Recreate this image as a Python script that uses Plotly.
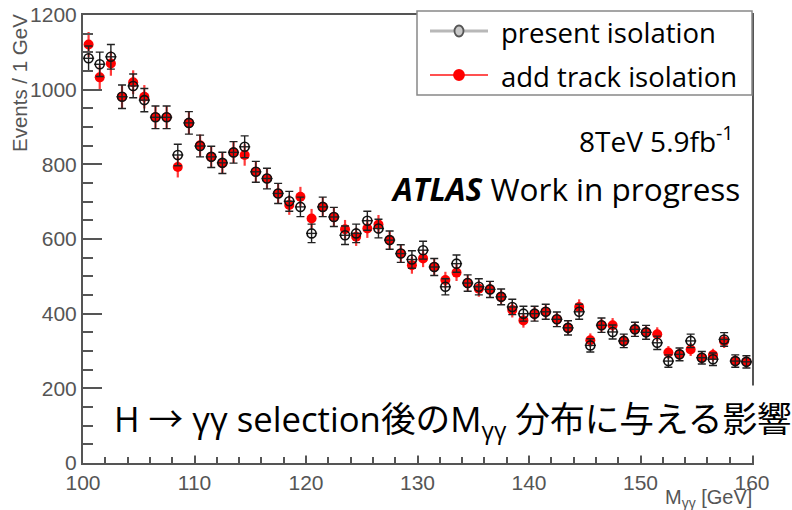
import numpy as np
import plotly.graph_objects as go

# Diphoton invariant mass, 1 GeV bins from 100 to 160 GeV (bin centres)
mass_bins = [100.5 + i for i in range(60)]
bin_half_width = 0.5

present_isolation = [
    1084, 1068, 1088, 981, 1010, 972, 926, 926, 825, 911,
    849, 820, 804, 832, 847, 780, 762, 722, 701, 686,
    615, 686, 659, 610, 615, 649, 628, 597, 561, 545,
    570, 525, 472, 534, 482, 472, 465, 445, 418, 400,
    400, 405, 385, 362, 405, 315, 369, 351, 327, 358,
    350, 322, 273, 291, 327, 282, 278, 331, 273, 271,
]

add_track_isolation = [
    1121, 1033, 1070, 981, 1020, 981, 926, 926, 793, 911,
    851, 820, 803, 832, 825, 780, 762, 722, 691, 713,
    655, 686, 659, 626, 606, 628, 639, 597, 561, 530,
    548, 525, 490, 510, 482, 467, 465, 445, 410, 382,
    400, 405, 385, 362, 418, 329, 369, 369, 327, 358,
    350, 345, 296, 291, 304, 282, 289, 326, 273, 271,
]

legend_labels = ["present isolation", "add track isolation"]

W, H = 792, 510
ML, MR, MT, MB = 83, 40, 15, 47
PW, PH = W - ML - MR, H - MT - MB


def px(x):
    return (x - ML) / PW


def py(y):
    return (H - MB - y) / PH


fig = go.Figure()

# Poisson (sqrt N) statistical uncertainties
fig.add_trace(go.Scatter(
    x=mass_bins, y=add_track_isolation, mode="markers",
    marker=dict(symbol="circle", size=10, color="#ff0000"),
    error_y=dict(type="data", array=np.sqrt(add_track_isolation),
                 color="#ff3a3a", thickness=2.2, width=0),
    showlegend=False,
))
fig.add_trace(go.Scatter(
    x=mass_bins, y=present_isolation, mode="markers",
    marker=dict(symbol="circle-open", size=9, color="#111111",
                line=dict(width=1.6, color="#111111")),
    error_y=dict(type="data", array=np.sqrt(present_isolation),
                 color="#222222", thickness=1.4, width=4),
    error_x=dict(type="constant", value=bin_half_width,
                 color="#222222", thickness=1.4, width=0),
    showlegend=False,
))

axis_common = dict(
    showline=True, linecolor="#555555", linewidth=2, mirror=True,
    ticks="inside", tickcolor="#555555", tickwidth=1.5,
    showgrid=False, zeroline=False, automargin=False,
    tickfont=dict(family="Liberation Sans, Arial", size=21, color="#555555"),
)

fig.update_xaxes(
    range=[100, 160], dtick=10, ticklen=12,
    minor=dict(ticks="inside", dtick=2, ticklen=6, tickcolor="#555555", tickwidth=1.5),
    **axis_common,
)
fig.update_yaxes(
    range=[0, 1200], dtick=200, ticklen=19,
    minor=dict(ticks="inside", dtick=50, ticklen=10, tickcolor="#555555", tickwidth=1.5),
    **axis_common,
)

shapes = []
annotations = []

# Legend box
shapes.append(dict(type="rect", xref="paper", yref="paper",
                   x0=px(417), x1=px(752), y0=py(95), y1=py(11),
                   line=dict(color="#888888", width=1.5), fillcolor="white", layer="above"))
legend_styles = [
    dict(y=31, line="#b8b8b8", lw=3, mfill="#c8c8c8", mline="#555555", rx=4.5, ry=5.5),
    dict(y=75, line="#ff5050", lw=1.8, mfill="#ff0000", mline="#ff0000", rx=5, ry=5),
]
for lab, st in zip(legend_labels, legend_styles):
    shapes.append(dict(type="line", xref="paper", yref="paper",
                       x0=px(430), x1=px(488), y0=py(st["y"]), y1=py(st["y"]),
                       line=dict(color=st["line"], width=st["lw"]), layer="above"))
    shapes.append(dict(type="circle", xref="paper", yref="paper",
                       xsizemode="pixel", ysizemode="pixel",
                       xanchor=px(459), yanchor=py(st["y"]),
                       x0=-st["rx"], x1=st["rx"], y0=-st["ry"], y1=st["ry"],
                       fillcolor=st["mfill"], line=dict(color=st["mline"], width=1.8),
                       layer="above"))
    annotations.append(dict(xref="paper", yref="paper", x=px(499), y=py(st["y"] + 1),
                            xanchor="left", yanchor="middle", showarrow=False,
                            text=lab, font=dict(family="Open Sans", size=27.5, color="black")))

txt_font = "Open Sans, Noto Sans CJK JP"
annotations.append(dict(xref="paper", yref="paper", x=px(736), y=py(140),
                        xanchor="right", yanchor="middle", showarrow=False,
                        text="8TeV 5.9fb<sup>-1</sup>",
                        font=dict(family=txt_font, size=28, color="black")))
annotations.append(dict(xref="paper", yref="paper", x=px(742), y=py(188),
                        xanchor="right", yanchor="middle", showarrow=False,
                        text="<b><i>ATLAS</i></b> Work in progress",
                        font=dict(family=txt_font, size=31.5, color="black")))
annotations.append(dict(xref="paper", yref="paper", x=px(104), y=py(420),
                        xanchor="left", yanchor="middle", showarrow=False,
                        text="H → γγ selection後のM<sub>γγ</sub> 分布に与える影響",
                        bgcolor="white", borderpad=9,
                        font=dict(family=txt_font, size=34.7, color="black")))

# Axis titles
annotations.append(dict(xref="paper", yref="paper", x=px(20), y=py(12),
                        xanchor="center", yanchor="top", textangle=-90, showarrow=False,
                        text="Events / 1 GeV",
                        font=dict(family="Liberation Sans, Arial", size=20.5, color="#555555")))
annotations.append(dict(xref="paper", yref="paper", x=px(754), y=py(498),
                        xanchor="right", yanchor="middle", showarrow=False,
                        text="M<sub>γγ</sub> [GeV]",
                        font=dict(family="Liberation Sans, Arial", size=20, color="#555555")))

fig.update_layout(
    width=W, height=H,
    margin=dict(l=ML, r=MR, t=MT, b=MB, autoexpand=False),
    paper_bgcolor="white", plot_bgcolor="white",
    shapes=shapes, annotations=annotations,
    showlegend=False,
)

fig.write_html("out.html")
